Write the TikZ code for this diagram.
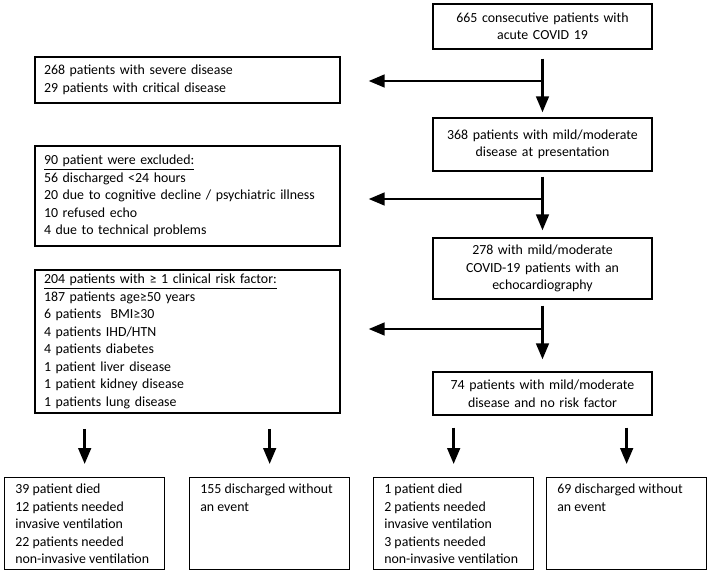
\documentclass[tikz,border=0pt]{standalone}
\usepackage{fontspec}
\setmainfont{Carlito}
\usepackage{tikz}
\usetikzlibrary{arrows.meta}

\tikzset{
  topbox/.style={draw, line width=1pt, text width=152.25pt, inner xsep=6pt, align=center},
  sidebox/.style={draw, line width=1pt, text width=215.25pt, inner xsep=6.75pt, align=left},
  endbox/.style={draw, line width=1pt, anchor=north west, inner xsep=8pt, inner ysep=5pt},
  flow/.style={line width=2pt, -{Triangle[length=12pt,width=9.5pt]}}
}

\begin{document}
\begin{tikzpicture}[x=0.75pt, y=-0.75pt, font=\fontsize{10.4}{13.1}\selectfont]
        \useasboundingbox (0,0) rectangle (708,575);
        % right column
        \node [topbox, minimum height=33.75pt] (start) at (542.5,26.5) {665 consecutive patients with\\acute COVID 19};
        \node [topbox, minimum height=39.75pt] (mild) at (542.5,144.5) {368 patients with mild/moderate\\disease at presentation};
        \node [topbox, minimum height=45.75pt] (echo) at (542.5,268.5) {278 with mild/moderate\\COVID-19 patients with an\\echocardiography};
        \node [topbox, minimum height=32.25pt] (norisk) at (542.5,393.5) {74 patients with mild/moderate\\disease and no risk factor};
        % left column
        \node [sidebox, minimum height=34.5pt] (severe) at (187.5,80) {268 patients with severe disease\\29 patients with critical disease};
        \node [sidebox, minimum height=75pt] (excl) at (187.5,196) {\underline{90 patient were excluded:}\\56 discharged <24 hours\\20 due to cognitive decline / psychiatric illness\\10 refused echo\\4 due to technical problems};
        \node [sidebox, minimum height=107.25pt] (risk) at (187.5,341.5) {\underline{204 patients with ≥ 1 clinical risk factor:}\\187 patients age≥50 years\\6 patients~ BMI≥30\\4 patients IHD/HTN\\4 patients diabetes\\1 patient liver disease\\1 patient kidney disease\\1 patients lung disease};
        % outcomes
        \node [endbox] (died1) at (4,477) {\parbox[c][59pt][t]{104pt}{\raggedright 39 patient died\\12 patients needed\\invasive ventilation\\22 patients needed\\non-invasive ventilation}};
        \node [endbox] (disc1) at (189,477) {\parbox[c][59pt][t]{104pt}{\raggedright 155 discharged without\\an event}};
        \node [endbox] (died2) at (373,477) {\parbox[c][59pt][t]{104pt}{\raggedright 1 patient died\\2 patients needed\\invasive ventilation\\3 patients needed\\non-invasive ventilation}};
        \node [endbox] (disc2) at (546,477) {\parbox[c][59pt][t]{104pt}{\raggedright 69 discharged without\\an event}};
        % main flow
        \coordinate (j1) at (542.5,81);
        \coordinate (j2) at (542.5,199);
        \coordinate (j3) at (542.5,329);
        \draw [flow, shorten <=6.75pt, shorten >=3.75pt] (start) -- (mild);
        \draw [flow, shorten <=3.75pt, shorten >=5.25pt] (mild) -- (echo);
        \draw [flow, shorten <=4.5pt, shorten >=9pt] (echo) -- (norisk);
        \draw [flow, shorten >=21pt] (j1) -- (j1 -| severe.east);
        \draw [flow, shorten >=21pt] (j2) -- (j2 -| excl.east);
        \draw [flow, shorten >=21pt] (j3) -- (j3 -| risk.east);
        % outcome arrows
        \draw [flow, shorten <=11.25pt, shorten >=9.75pt] (risk.south -| died1.north) -- (died1.north);
        \draw [flow, shorten <=11.25pt, shorten >=9.75pt] (risk.south -| disc1.north) -- (disc1.north);
        \draw [flow, shorten <=9pt, shorten >=9.75pt] (norisk.south -| died2.north) -- (died2.north);
        \draw [flow, shorten <=9pt, shorten >=9.75pt] (norisk.south -| disc2.north) -- (disc2.north);
\end{tikzpicture}
\end{document}
